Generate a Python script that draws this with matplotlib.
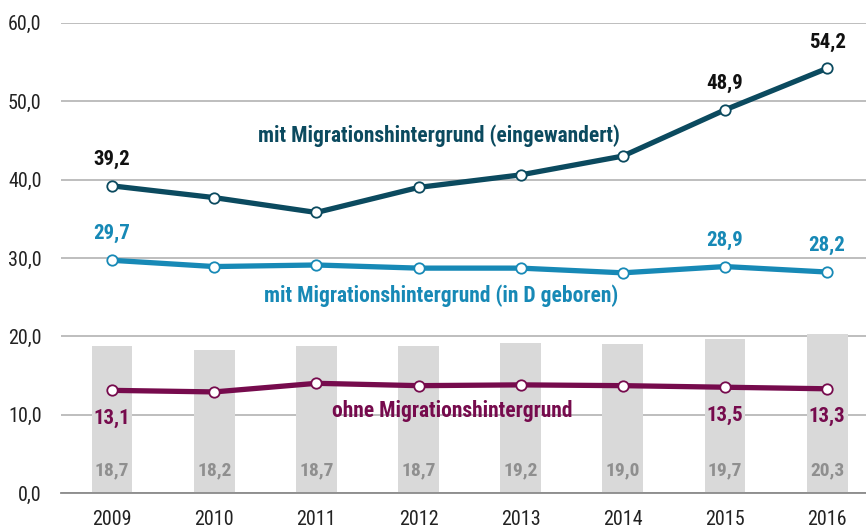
import matplotlib.pyplot as plt
import numpy as np

years = ["2009", "2010", "2011", "2012", "2013", "2014", "2015", "2016"]
eingewandert = [39.2, 37.7, 35.8, 39.0, 40.6, 43.0, 48.9, 54.2]
in_d_geboren = [29.7, 28.9, 29.1, 28.7, 28.7, 28.1, 28.9, 28.2]
ohne = [13.1, 12.9, 14.0, 13.7, 13.8, 13.7, 13.5, 13.3]
balken = [18.7, 18.2, 18.7, 18.7, 19.2, 19.0, 19.7, 20.3]

# welche Punkte eine Beschriftung bekommen
label_idx = [0, 6, 7]

plt.rcParams["font.family"] = ["Roboto Condensed", "DejaVu Sans"]

c_dark = "#0b4a5f"
c_blue = "#1789b6"
c_mag = "#760b4d"
c_bar = "#d9d9d9"
c_grid = "#b3b3b3"


def fmt(v):
    return f"{v:.1f}".replace(".", ",")


fig = plt.figure(figsize=(8.66, 5.32), dpi=100)
ax = fig.add_axes([0.0704, 0.0733, 0.9296, 0.8837])

x = np.arange(len(years))

ax.bar(x, balken, width=0.4, color=c_bar, zorder=1)
for xi, v in zip(x, balken):
    ax.text(xi, 2.9, fmt(v), ha="center", va="center",
            fontsize=14, fontweight="bold", color="#8f8f8f", zorder=2)

for vals, col in [(eingewandert, c_dark), (in_d_geboren, c_blue), (ohne, c_mag)]:
    ax.plot(x, vals, color=col, lw=3.8, marker="o", ms=7.5,
            mfc="white", mec=col, mew=1.3, zorder=4, solid_capstyle="round")

for i in label_idx:
    ax.annotate(fmt(eingewandert[i]), (x[i], eingewandert[i]), xytext=(0, 19),
                textcoords="offset points", ha="center", va="center",
                fontsize=15, fontweight="bold", color="#111111", zorder=5)
    ax.annotate(fmt(in_d_geboren[i]), (x[i], in_d_geboren[i]), xytext=(0, 19),
                textcoords="offset points", ha="center", va="center",
                fontsize=15, fontweight="bold", color=c_blue, zorder=5)
    ax.annotate(fmt(ohne[i]), (x[i], ohne[i]), xytext=(0, -20),
                textcoords="offset points", ha="center", va="center",
                fontsize=15, fontweight="bold", color=c_mag, zorder=5)

ax.text(3.2, 45.6, "mit Migrationshintergrund (eingewandert)", ha="center", va="center",
        fontsize=15.5, fontweight="bold", color=c_dark, zorder=5)
ax.text(3.22, 25.2, "mit Migrationshintergrund (in D geboren)", ha="center", va="center",
        fontsize=15.5, fontweight="bold", color=c_blue, zorder=5)
ax.text(3.33, 10.5, "ohne Migrationshintergrund", ha="center", va="center",
        fontsize=15.5, fontweight="bold", color=c_mag, zorder=5)

ax.set_xlim(-0.5, 7.38)
ax.set_ylim(0, 60)
ax.set_yticks(np.arange(0, 61, 10))
ax.set_yticklabels([fmt(v) for v in np.arange(0, 61, 10)])
ax.set_xticks(x)
ax.set_xticklabels(years)
ax.tick_params(axis="both", length=0, labelsize=14.5, colors="#222222")
ax.tick_params(axis="x", pad=12)
ax.tick_params(axis="y", pad=14)
ax.grid(axis="y", color=c_grid, lw=1.2, zorder=0)
ax.set_axisbelow(True)
for s in ["top", "right", "left"]:
    ax.spines[s].set_visible(False)
ax.spines["bottom"].set_color("#8a8a8a")
ax.spines["bottom"].set_linewidth(1.3)

fig.savefig("out.png", dpi=100)
